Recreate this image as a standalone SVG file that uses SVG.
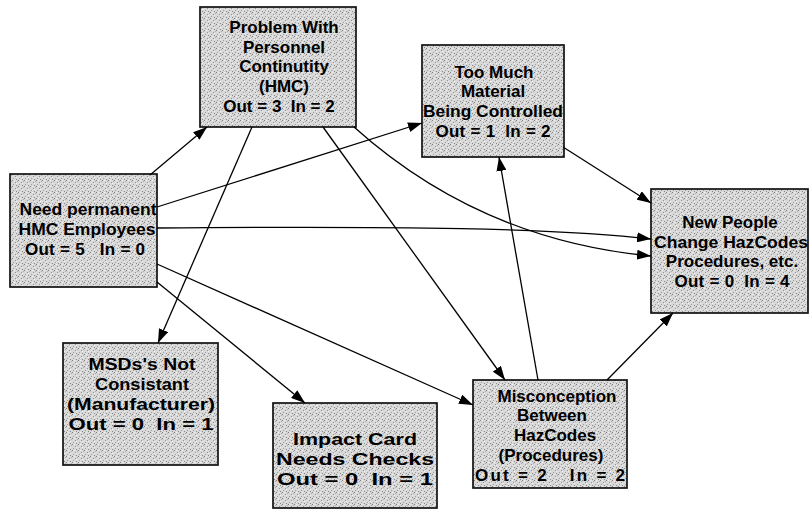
<svg xmlns="http://www.w3.org/2000/svg" width="809" height="511" viewBox="0 0 809 511">
  <style>
    .box { fill: url(#stipple); stroke: #111; stroke-width: 1.7; }
    .lbl { font-family: "Liberation Sans", Arial, Helvetica, sans-serif; font-size: 17px; font-weight: bold; fill: #000; text-anchor: middle; }
    .edge { fill: none; stroke: #000; stroke-width: 1.3; marker-end: url(#arrow); }
  </style>
  <defs>
    <!-- halftone-like grey fill for the boxes -->
    <pattern id="stipple" width="6" height="6" patternUnits="userSpaceOnUse">
      <rect width="6" height="6" fill="#d9d9d9"/>
      <rect x="0" y="0" width="1" height="1" fill="#7f7f7f"/>
      <rect x="3" y="2" width="1" height="1" fill="#929292"/>
      <rect x="1" y="4" width="1" height="1" fill="#9e9e9e"/>
      <rect x="4" y="5" width="1" height="1" fill="#888888"/>
      <rect x="5" y="1" width="1" height="1" fill="#a8a8a8"/>
      <rect x="2" y="0" width="1" height="1" fill="#f2f2f2"/>
      <rect x="4" y="3" width="1" height="1" fill="#f0f0f0"/>
    </pattern>
    <marker id="arrow" markerUnits="userSpaceOnUse" markerWidth="15" markerHeight="10" refX="14" refY="5" orient="auto">
      <path d="M0,0 L14,5 L0,10 Z" fill="#000"/>
    </marker>
  </defs>

  <g id="nodes">
    <g id="need-permanent">
      <rect class="box" x="10" y="174" width="147" height="113"/>
      <text class="lbl" x="88" y="215" textLength="137" lengthAdjust="spacingAndGlyphs">Need permanent</text>
      <text class="lbl" x="87" y="235" textLength="137" lengthAdjust="spacingAndGlyphs">HMC Employees</text>
      <text class="lbl" x="85" y="255" xml:space="preserve" textLength="120" lengthAdjust="spacing">Out = 5   In = 0</text>
    </g>
    <g id="personnel-continuity">
      <rect class="box" x="200" y="7" width="156" height="120"/>
      <text class="lbl" x="284" y="33">Problem With</text>
      <text class="lbl" x="284" y="53">Personnel</text>
      <text class="lbl" x="284" y="72">Continutity</text>
      <text class="lbl" x="284" y="92">(HMC)</text>
      <text class="lbl" x="279" y="112" xml:space="preserve">Out = 3  In = 2</text>
    </g>
    <g id="too-much-material">
      <rect class="box" x="422" y="45" width="142" height="112"/>
      <text class="lbl" x="494" y="78">Too Much</text>
      <text class="lbl" x="493" y="97">Material</text>
      <text class="lbl" x="493" y="117" textLength="140" lengthAdjust="spacingAndGlyphs">Being Controlled</text>
      <text class="lbl" x="493" y="137" xml:space="preserve" textLength="115" lengthAdjust="spacing">Out = 1  In = 2</text>
    </g>
    <g id="new-people">
      <rect class="box" x="651" y="189" width="157" height="124"/>
      <text class="lbl" x="730" y="228">New People</text>
      <text class="lbl" x="731" y="248" textLength="154" lengthAdjust="spacingAndGlyphs">Change HazCodes</text>
      <text class="lbl" x="732" y="267">Procedures, etc.</text>
      <text class="lbl" x="732" y="287" xml:space="preserve" textLength="115" lengthAdjust="spacing">Out = 0  In = 4</text>
    </g>
    <g id="msds">
      <rect class="box" x="63" y="343" width="155" height="122"/>
      <text class="lbl" x="142" y="370" textLength="107" lengthAdjust="spacingAndGlyphs">MSDs's Not</text>
      <text class="lbl" x="142" y="390" textLength="94" lengthAdjust="spacingAndGlyphs">Consistant</text>
      <text class="lbl" x="141" y="410" textLength="148" lengthAdjust="spacingAndGlyphs">(Manufacturer)</text>
      <text class="lbl" x="141" y="430" xml:space="preserve" textLength="145" lengthAdjust="spacingAndGlyphs">Out = 0  In = 1</text>
    </g>
    <g id="impact-card">
      <rect class="box" x="273" y="403" width="164" height="105"/>
      <text class="lbl" x="355" y="445" textLength="124" lengthAdjust="spacingAndGlyphs">Impact Card</text>
      <text class="lbl" x="355" y="465" textLength="158" lengthAdjust="spacingAndGlyphs">Needs Checks</text>
      <text class="lbl" x="355" y="485" xml:space="preserve" textLength="156" lengthAdjust="spacingAndGlyphs">Out = 0  In = 1</text>
    </g>
    <g id="misconception">
      <rect class="box" x="473" y="380" width="154" height="108"/>
      <text class="lbl" x="557" y="402">Misconception</text>
      <text class="lbl" x="552" y="421">Between</text>
      <text class="lbl" x="555" y="441">HazCodes</text>
      <text class="lbl" x="551" y="461">(Procedures)</text>
      <text class="lbl" x="550" y="481" xml:space="preserve" textLength="150" lengthAdjust="spacing">Out = 2   In = 2</text>
    </g>
  </g>

  <g id="connectors">
    <path class="edge" d="M150,175 L207,127"/>
    <path class="edge" d="M157,207 L422,123"/>
    <path class="edge" d="M157,228 C400,226 560,228 651,239"/>
    <path class="edge" d="M157,264 L473,405"/>
    <path class="edge" d="M157,282 L305,403"/>
    <path class="edge" d="M252,127 L158,343"/>
    <path class="edge" d="M323,127 L505,380"/>
    <path class="edge" d="M354,127 Q480,240 651,256"/>
    <path class="edge" d="M563,147 L651,203"/>
    <path class="edge" d="M538,380 L499,157"/>
    <path class="edge" d="M607,380 L673,313"/>
  </g>
</svg>
